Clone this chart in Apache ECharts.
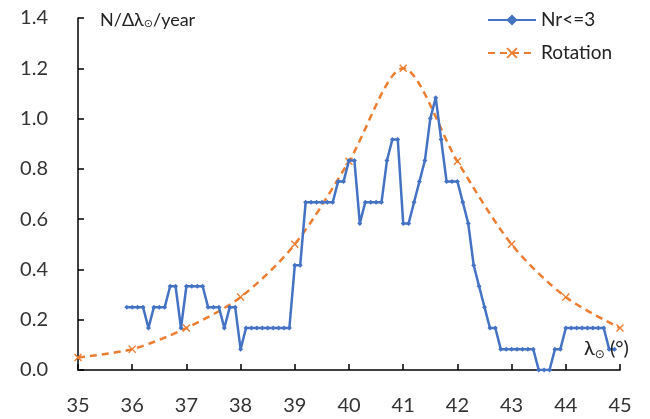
<!DOCTYPE html>
<html>
<head>
<meta charset="utf-8">
<script src="https://cdn.jsdelivr.net/npm/echarts@6/dist/echarts.min.js"></script>
<style>
html,body{margin:0;padding:0;background:#fff;}
#chart{width:650px;height:419px;}
</style>
</head>
<body>
<div id="chart"></div>
<script>
// Series "Nr<=3": solar longitude (deg) and rate
var nrX = [35.9,36.0,36.1,36.2,36.3,36.4,36.5,36.6,36.7,36.8,36.9,37.0,37.1,37.2,37.3,37.4,37.5,37.6,37.7,37.8,37.9,
  38.0,38.1,38.2,38.3,38.4,38.5,38.6,38.7,38.8,38.9,39.0,39.1,39.2,39.3,39.4,39.5,39.6,39.7,39.8,39.9,
  40.0,40.1,40.2,40.3,40.4,40.5,40.6,40.7,40.8,40.9,41.0,41.1,41.2,41.3,41.4,41.5,41.6,41.7,41.8,41.9,
  42.0,42.1,42.2,42.3,42.4,42.5,42.6,42.7,42.8,42.9,43.0,43.1,43.2,43.3,43.4,43.5,43.6,43.7,43.8,43.9,
  44.0,44.1,44.2,44.3,44.4,44.5,44.6,44.7,44.8,44.9];
var nrY = [0.25,0.25,0.25,0.25,0.167,0.25,0.25,0.25,0.333,0.333,0.167,0.333,0.333,0.333,0.333,0.25,0.25,0.25,0.167,0.25,0.25,
  0.083,0.167,0.167,0.167,0.167,0.167,0.167,0.167,0.167,0.167,0.417,0.417,0.667,0.667,0.667,0.667,0.667,0.667,0.75,0.75,
  0.833,0.833,0.583,0.667,0.667,0.667,0.667,0.833,0.917,0.917,0.583,0.583,0.667,0.75,0.833,1.0,1.083,0.917,0.75,0.75,
  0.75,0.667,0.583,0.417,0.333,0.25,0.167,0.167,0.083,0.083,0.083,0.083,0.083,0.083,0.083,0,0,0,0.083,0.083,
  0.167,0.167,0.167,0.167,0.167,0.167,0.167,0.167,0.083,0.083];
// Series "Rotation"
var rotX = [35,36,37,38,39,40,41,42,43,44,45];
var rotY = [0.05,0.083,0.167,0.29,0.5,0.83,1.2,0.83,0.5,0.29,0.167];
// Axis ticks
var xTicks = [35,36,37,38,39,40,41,42,43,44,45];
var yTicks = [0,0.2,0.4,0.6,0.8,1.0,1.2,1.4];

var FONT = 'Lato';
var xMark = 'path://M0,1.2L1.2,0L5,3.8L8.8,0L10,1.2L6.2,5L10,8.8L8.8,10L5,6.2L1.2,10L0,8.8L3.8,5Z';

var chart = echarts.init(document.getElementById('chart'), null, {renderer:'canvas'});
chart.setOption({
  animation:false,
  textStyle:{fontFamily:FONT},
  grid:{left:78, right:30, top:18, bottom:49, containLabel:false},
  legend:{
    orient:'vertical', left:487, top:10, itemWidth:48, itemHeight:14, itemGap:13, padding:0,
    textStyle:{fontFamily:FONT, fontSize:19, color:'#222', lineHeight:20},
    data:['Nr<=3','Rotation']
  },
  xAxis:{
    type:'value', min:xTicks[0], max:xTicks[xTicks.length-1], interval:1,
    axisLine:{lineStyle:{color:'#000', width:1.5}},
    axisTick:{inside:true, length:6, lineStyle:{color:'#000', width:1.5}},
    axisLabel:{fontFamily:FONT, fontSize:20, color:'#333', margin:26},
    splitLine:{show:false}
  },
  yAxis:{
    type:'value', min:yTicks[0], max:yTicks[yTicks.length-1], interval:0.2,
    axisLine:{show:true, lineStyle:{color:'#000', width:1.5}},
    axisTick:{show:true, inside:true, length:6, lineStyle:{color:'#000', width:1.5}},
    axisLabel:{fontFamily:FONT, fontSize:20, color:'#333', margin:30, formatter:function(v){return v.toFixed(1);}},
    splitLine:{show:false}
  },
  series:[
    {
      name:'Nr<=3', type:'line', data:nrX.map(function(x,i){return [x,nrY[i]];}),
      symbol:'diamond', symbolSize:5, showAllSymbol:true,
      lineStyle:{color:'#4472C4', width:2.5},
      itemStyle:{color:'#4472C4'},
      z:3
    },
    {
      name:'Rotation', type:'line', smooth:0.3, data:rotX.map(function(x,i){return [x,rotY[i]];}),
      symbol:xMark, symbolSize:8, showAllSymbol:true,
      lineStyle:{color:'#ED7D31', width:2.5, type:[7,5]},
      itemStyle:{color:'#ED7D31'},
      z:2
    }
  ],
  graphic:[
    {type:'text', left:100, top:11, z:10, style:{
      text:'N/Δλ{s|⊙}/year', fontFamily:FONT, fontSize:18, fill:'#222',
      rich:{s:{fontFamily:'DejaVu Sans', fontSize:11, fill:'#222', padding:[9,0,0,0]}}
    }},
    {type:'text', left:584, top:339, z:10, style:{
      text:'λ{s|⊙} (°)', fontFamily:FONT, fontSize:20, fill:'#222',
      rich:{s:{fontFamily:'DejaVu Sans', fontSize:12, fill:'#222', padding:[11,0,0,0]}}
    }}
  ]
});
</script>
</body>
</html>
